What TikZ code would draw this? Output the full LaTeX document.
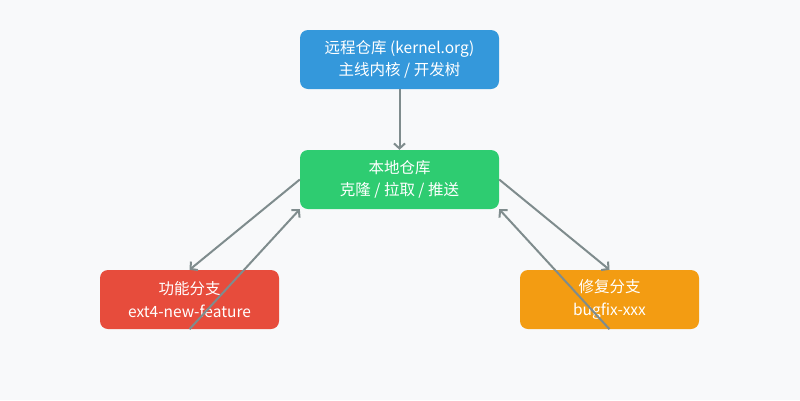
\documentclass[tikz,border=0pt]{standalone}
\usepackage{fontspec}
\setmainfont{Noto Sans CJK SC}
\usetikzlibrary{arrows.meta}
\definecolor{bgc}{HTML}{F8F9FA}
\definecolor{bluec}{HTML}{3498DB}
\definecolor{greenc}{HTML}{2ECC71}
\definecolor{redc}{HTML}{E74C3C}
\definecolor{orangec}{HTML}{F39C12}
\definecolor{linec}{HTML}{7F8C8D}
\tikzset{
  box/.style={rounded corners=8pt, minimum height=59pt, text=white, align=center,
    font=\fontsize{15.5pt}{22.5pt}\selectfont, inner sep=0pt},
  conn/.style={draw=linec, line width=2pt, -{Straight Barb[length=5pt,width=11pt,line width=2pt]}},
}
\begin{document}
\begin{tikzpicture}[x=1pt,y=-1pt]
\fill[bgc] (0,0) rectangle (800,400);
\useasboundingbox (0,0) rectangle (800,400);
\node[box, fill=bluec, minimum width=199pt] (remote) at (399.5,59.5) {远程仓库 (kernel.org)\\主线内核 / 开发树};
\node[box, fill=greenc, minimum width=199pt] (local) at (399.5,179.5) {本地仓库\\克隆 / 拉取 / 推送};
\node[box, fill=redc, minimum width=179pt] (feat) at (189.5,299.5) {功能分支\\ext4-new-feature};
\node[box, fill=orangec, minimum width=179pt] (fix) at (609.5,299.5) {修复分支\\bugfix-xxx};
\draw[conn] (remote.south) -- (local.north);
\draw[conn] (local.west) -- (feat.north);
\draw[conn] (feat.south) -- (local.south west);
\draw[conn] (local.east) -- (fix.north);
\draw[conn] (fix.south) -- (local.south east);
\end{tikzpicture}
\end{document}
